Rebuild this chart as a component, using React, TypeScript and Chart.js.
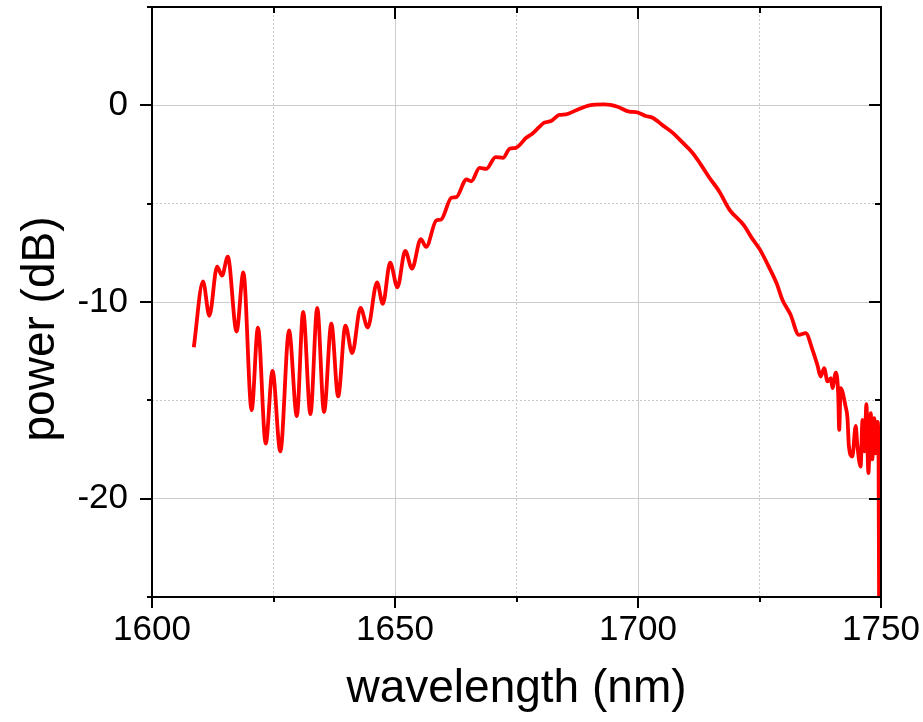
import React, { useEffect, useRef } from 'react';
import { Chart, registerables } from 'chart.js';

Chart.register(...registerables);

const wavelength = [
  1608.6, 1610.5, 1611.8, 1613.4, 1614.4, 1615.6, 1617.4, 1618.8, 1620.5, 1621.8,
  1623.4, 1624.8, 1626.4, 1628.2, 1629.8, 1631.1, 1632.6, 1634.0, 1635.4, 1636.9,
  1638.3, 1639.8, 1641.2, 1642.9, 1644.4, 1646.3, 1647.5, 1649.0, 1650.5, 1652.1,
  1653.5, 1655.3, 1656.4, 1658.5, 1659.5, 1661.6, 1662.6, 1664.7, 1665.7, 1667.4,
  1668.8, 1670.7, 1672.2, 1673.6, 1674.9, 1677.0, 1678.3, 1679.7, 1680.7, 1682.1,
  1683.8, 1685.2, 1687.3, 1690.0, 1693.1, 1695.8, 1698.2, 1699.6, 1701.6, 1703.0,
  1705.1, 1707.1, 1709.2, 1711.2, 1712.9, 1714.7, 1716.7, 1718.8, 1721.8, 1723.3,
  1725.0, 1727.0, 1728.6, 1729.7, 1731.4, 1733.1, 1734.5, 1735.9, 1736.9, 1737.6,
  1738.3, 1739.0, 1739.7, 1740.0, 1740.7, 1741.2, 1741.4, 1741.7, 1742.7, 1743.1,
  1743.4, 1744.1, 1744.8, 1745.1, 1745.8, 1746.2, 1746.6, 1747.0, 1747.4, 1747.9,
  1748.2, 1748.6, 1748.9, 1749.1, 1749.3, 1749.5, 1749.6,
];

const power = [
  -12.3, -8.95, -10.7, -8.2, -8.66, -7.7, -11.5, -8.5, -15.5, -11.3,
  -17.2, -13.5, -17.6, -11.45, -15.8, -10.5, -15.7, -10.3, -15.6, -11.1,
  -14.8, -11.2, -12.6, -10.3, -11.3, -9.0, -10.1, -8.0, -9.25, -7.4,
  -8.3, -6.8, -7.2, -5.85, -5.8, -4.7, -4.67, -3.77, -3.86, -3.18,
  -3.23, -2.63, -2.67, -2.21, -2.16, -1.65, -1.43, -1.1, -0.88, -0.8,
  -0.49, -0.46, -0.25, 0, 0.05, -0.07, -0.32, -0.34, -0.54, -0.63,
  -1.02, -1.39, -1.9, -2.41, -3.0, -3.68, -4.37, -5.3, -6.1, -6.7,
  -7.3, -8.25, -9.1, -9.88, -10.65, -11.67, -11.58, -12.43, -13.19, -13.79,
  -13.36, -14.04, -13.87, -14.38, -13.59, -14.72, -16.5, -14.38, -15.3, -15.9,
  -17.35, -17.86, -16.3, -17.2, -18.37, -16.0, -17.6, -15.2, -18.7, -15.65,
  -18.0, -15.9, -17.7, -16.3, -16.1, -17.9, -25,
];

const xMajorLabels = [1600, 1650, 1700, 1750];
const yMajorLabels = [0, -10, -20];
const xTitle = 'wavelength (nm)';
const yTitle = 'power (dB)';

const FONT = "'Liberation Sans', Arial, Helvetica, sans-serif";

export default function App() {
  const ref = useRef<HTMLCanvasElement>(null);

  useEffect(() => {
    const canvas = ref.current;
    if (!canvas) return;

    const framePlugin = {
      id: 'frameTicks',
      afterDraw(chart: any) {
        const { ctx, chartArea: a, scales } = chart;
        const xs = scales.x;
        const ys = scales.y;
        ctx.save();
        ctx.strokeStyle = '#000';
        ctx.lineWidth = 2;
        ctx.beginPath();
        xs.ticks.forEach((t: any) => {
          const px = Math.round(xs.getPixelForValue(t.value));
          const major = xMajorLabels.includes(t.value);
          ctx.moveTo(px, a.bottom);
          ctx.lineTo(px, a.bottom + (major ? 11 : 5));
          ctx.moveTo(px, a.top);
          ctx.lineTo(px, a.top + (major ? 12 : 6));
        });
        ys.ticks.forEach((t: any) => {
          const py = Math.round(ys.getPixelForValue(t.value));
          const major = yMajorLabels.includes(t.value);
          ctx.moveTo(a.left, py);
          ctx.lineTo(a.left - (major ? 12 : 5), py);
          ctx.moveTo(a.right, py);
          ctx.lineTo(a.right - (major ? 12 : 6), py);
        });
        ctx.stroke();
        ctx.strokeRect(a.left, a.top, a.right - a.left, a.bottom - a.top);

        // y-axis title (placed slightly below the centre, as in the original figure)
        ctx.translate(41, (a.top + a.bottom) / 2 + 27);
        ctx.rotate(-Math.PI / 2);
        ctx.fillStyle = '#000';
        ctx.font = `46px ${FONT}`;
        ctx.textAlign = 'center';
        ctx.textBaseline = 'middle';
        ctx.fillText(yTitle, 0, 0);
        ctx.restore();
      },
    };

    const gridColor = (ctx: any, lo: number, hi: number, majors: number[]) => {
      const v = ctx.tick?.value;
      if (v === lo || v === hi) return 'rgba(0,0,0,0)';
      return majors.includes(v) ? '#cccccc' : '#c8c8c8';
    };

    const chart = new Chart(canvas, {
      type: 'line',
      data: {
        datasets: [
          {
            data: wavelength.map((x, i) => ({ x, y: power[i] })),
            borderColor: '#ff0000',
            borderWidth: 3.8,
            pointRadius: 0,
            fill: false,
            cubicInterpolationMode: 'monotone',
          },
        ],
      },
      plugins: [framePlugin],
      options: {
        responsive: false,
        animation: false,
        devicePixelRatio: 1,
        layout: { padding: { left: 0, top: 7, right: 42, bottom: 0 } },
        plugins: { legend: { display: false }, tooltip: { enabled: false } },
        scales: {
          x: {
            type: 'linear',
            min: 1600,
            max: 1750,
            afterFit: (s: any) => {
              s.height = 125;
              s.paddingLeft = 0;
              s.paddingRight = 0;
            },
            ticks: {
              stepSize: 25,
              autoSkip: false,
              maxRotation: 0,
              padding: 12,
              color: '#000',
              font: { family: FONT, size: 35 },
              callback: (v: any) => (xMajorLabels.includes(v) ? String(v) : ''),
            },
            grid: {
              drawTicks: false,
              lineWidth: 1,
              color: (ctx: any) => gridColor(ctx, 1600, 1750, xMajorLabels),
            },
            border: {
              display: false,
              dash: (ctx: any) => (xMajorLabels.includes(ctx.tick?.value) ? [] : [2, 2]),
            },
            title: {
              display: true,
              text: xTitle,
              color: '#000',
              font: { family: FONT, size: 46 },
              padding: { top: 0, bottom: 5 },
            },
          },
          y: {
            type: 'linear',
            min: -25,
            max: 5,
            afterFit: (s: any) => {
              s.width = 152;
              s.paddingTop = 0;
              s.paddingBottom = 0;
            },
            ticks: {
              stepSize: 5,
              padding: 24,
              color: '#000',
              font: { family: FONT, size: 35 },
              callback: (v: any) => (yMajorLabels.includes(v) ? String(v) : ''),
            },
            grid: {
              drawTicks: false,
              lineWidth: 1,
              color: (ctx: any) => gridColor(ctx, -25, 5, yMajorLabels),
            },
            border: {
              display: false,
              dash: (ctx: any) => (yMajorLabels.includes(ctx.tick?.value) ? [] : [2, 2]),
            },
            title: { display: false },
          },
        },
      },
    } as any);

    return () => {
      chart.destroy();
    };
  }, []);

  return (
    <div style={{ position: 'absolute', left: 0, top: 0, width: 923, height: 722 }}>
      <canvas ref={ref} width={923} height={722} style={{ display: 'block' }} />
    </div>
  );
}
